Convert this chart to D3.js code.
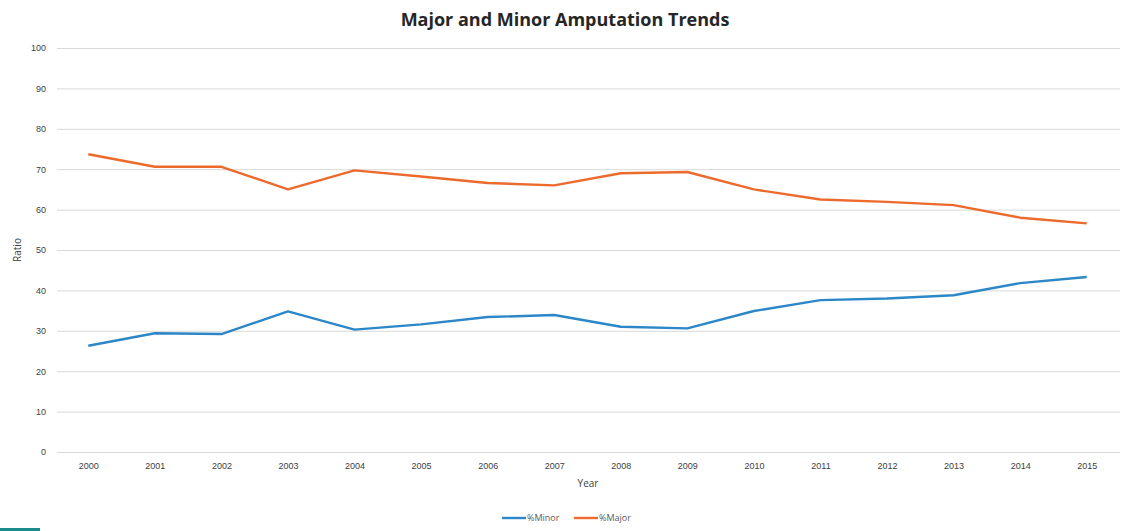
<!DOCTYPE html>
<html>
<head>
<meta charset="utf-8">
<script src="https://cdn.jsdelivr.net/npm/d3@7"></script>
<style>
  body { margin: 0; background: #fff; }
  svg { display: block; font-family: "Open Sans", sans-serif; }
  .axis text { fill: #404040; font-size: 9px; }
  .axis path, .axis line { display: none; }
  .grid line { stroke: #d9d9d9; stroke-width: 1; }
</style>
</head>
<body>
<div id="chart"></div>
<script>
const years = ['2000','2001','2002','2003','2004','2005','2006','2007',
               '2008','2009','2010','2011','2012','2013','2014','2015'];
const minor = [26.3, 29.4, 29.2, 34.8, 30.3, 31.6, 33.4, 33.9,
               31.0, 30.6, 34.9, 37.6, 38.0, 38.8, 41.8, 43.3];
const major = [73.7, 70.6, 70.6, 65.0, 69.7, 68.2, 66.6, 66.0,
               69.0, 69.3, 65.0, 62.5, 61.9, 61.1, 58.0, 56.6];
const yTicks = [0, 10, 20, 30, 40, 50, 60, 70, 80, 90, 100];

const series = [
  { name: '%Minor', values: minor, color: '#2b87c8' },
  { name: '%Major', values: major, color: '#ec6a2c' }
];

const W = 1121, H = 531;
const margin = { top: 48, right: 1, bottom: 79, left: 55 };
const width = W - margin.left - margin.right;
const height = H - margin.top - margin.bottom;

const svg = d3.select('#chart').append('svg')
    .attr('width', W)
    .attr('height', H);

svg.append('text')
    .attr('x', 565)
    .attr('y', 26)
    .attr('text-anchor', 'middle')
    .style('font-size', '18px')
    .style('font-weight', 'bold')
    .style('fill', '#262626')
    .text('Major and Minor Amputation Trends');

const g = svg.append('g')
    .attr('transform', `translate(${margin.left},${margin.top})`);

const x = d3.scalePoint()
    .domain(years)
    .range([0, width])
    .padding(0.5);

const y = d3.scaleLinear()
    .domain([0, 100])
    .range([height, 0]);

// gridlines
g.append('g')
    .attr('class', 'grid')
    .selectAll('line')
    .data(yTicks)
    .join('line')
    .attr('x1', 2)
    .attr('x2', width)
    .attr('y1', d => y(d) + 0.5)
    .attr('y2', d => y(d) + 0.5);

g.append('g')
    .attr('class', 'axis axis--y')
    .call(d3.axisLeft(y).tickValues(yTicks).tickSize(0).tickPadding(9));

g.append('g')
    .attr('class', 'axis axis--x')
    .attr('transform', `translate(0,${height})`)
    .call(d3.axisBottom(x).tickSize(0).tickPadding(11));

const line = d3.line()
    .x((d, i) => x(years[i]))
    .y(d => y(d));

g.selectAll('.series')
    .data(series)
    .join('path')
    .attr('class', 'series')
    .attr('fill', 'none')
    .attr('stroke', d => d.color)
    .attr('stroke-width', 2.4)
    .attr('stroke-linejoin', 'round')
    .attr('d', d => line(d.values));

// axis titles
svg.append('text')
    .attr('x', 588)
    .attr('y', 487)
    .attr('text-anchor', 'middle')
    .style('font-size', '10px')
    .style('fill', '#404040')
    .text('Year');

svg.append('text')
    .attr('transform', 'translate(21,250) rotate(-90)')
    .attr('text-anchor', 'middle')
    .style('font-size', '10px')
    .style('fill', '#404040')
    .text('Ratio');

// legend
const legend = svg.append('g')
    .attr('transform', 'translate(502,518)');

const item = legend.selectAll('g')
    .data(series)
    .join('g')
    .attr('transform', (d, i) => `translate(${i * 72},0)`);

item.append('line')
    .attr('x1', 0).attr('x2', 24)
    .attr('stroke', d => d.color)
    .attr('stroke-width', 2.4);

item.append('text')
    .attr('x', 25)
    .attr('y', 3)
    .style('font-size', '9px')
    .style('fill', '#595959')
    .text(d => d.name);

// small teal strip in the corner
svg.append('rect')
    .attr('x', 0).attr('y', 528)
    .attr('width', 40).attr('height', 3)
    .attr('fill', '#1a8c8c');
</script>
</body>
</html>
